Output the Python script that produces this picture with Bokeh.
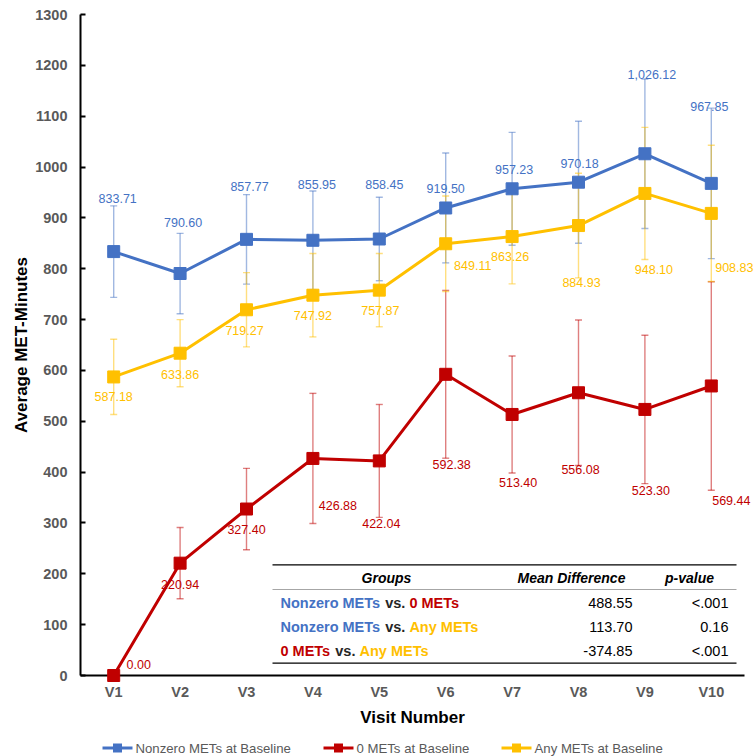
from bokeh.plotting import figure
from bokeh.models import ColumnDataSource, Whisker, TeeHead, Range1d, FixedTicker
from bokeh.core.properties import value
from bokeh.embed import file_html
from bokeh.resources import INLINE

# ---------------- data ----------------
visits = ["V1", "V2", "V3", "V4", "V5", "V6", "V7", "V8", "V9", "V10"]
nonzero = [833.71, 790.60, 857.77, 855.95, 858.45, 919.50, 957.23, 970.18, 1026.12, 967.85]
nonzero_err = [90, 79, 88, 97, 82, 108, 111, 120, 147, 148]
zero = [0.00, 220.94, 327.40, 426.88, 422.04, 592.38, 513.40, 556.08, 523.30, 569.44]
zero_err = [0, 70, 80, 128, 111, 165, 115, 143, 146, 205]
anymets = [587.18, 633.86, 719.27, 747.92, 757.87, 849.11, 863.26, 884.93, 948.10, 908.83]
any_err = [74, 66, 73, 82, 72, 94, 93, 103, 130, 134]
y_ticks = list(range(0, 1301, 100))

series_names = ["Nonzero METs at Baseline", "0 METs at Baseline", "Any METs at Baseline"]

table_header = ["Groups", "Mean Difference", "p-value"]
table_groups = [
    [("Nonzero METs", "blue"), ("vs.", "dark"), ("0 METs", "red")],
    [("Nonzero METs", "blue"), ("vs.", "dark"), ("Any METs", "yellow")],
    [("0 METs", "red"), ("vs.", "dark"), ("Any METs", "yellow")],
]
mean_diff = [488.55, 113.70, -374.85]
p_values = ["<.001", "0.16", "<.001"]

# ---------------- style / layout ----------------
FONT = "Liberation Sans"
COL = {"blue": "#4472C4", "red": "#C00000", "yellow": "#FFC000", "dark": "#262626"}
# label pixel offsets (dx, dy) relative to each marker
nonzero_lbl_dx = [4, 3, 3, 4, 5, 0, 2, 1, 7, -2]
nonzero_lbl_dy = [-53, -51, -53, -56, -55, -19, -19, -19, -79, -77]
zero_lbl_dx = [25, 0, 0, 25, 2, 6, 6, 2, 6, 20]
zero_lbl_dy = [-11, 21, 20, 47, 63, 90, 68, 77, 81, 115]
any_lbl_dx = [0, 0, -2, 0, 1, 27, -2, 3, 9, 23]
any_lbl_dy = [20, 21, 21, 20, 20, 22, 20, 57, 76, 54]

W, H = 756, 756
FL, FR, FT, FB = 80, 744, 14, 675          # frame edges in canvas pixels
YMAX = 1300

p = figure(width=W, height=H, x_range=visits, y_range=Range1d(0, YMAX),
           output_backend="svg", toolbar_location=None,
           min_border_left=FL, min_border_right=W - FR,
           min_border_top=FT, min_border_bottom=H - FB)
p.outline_line_color = None
p.xgrid.visible = False
p.ygrid.visible = False
p.background_fill_color = "white"

# axes
p.yaxis.ticker = FixedTicker(ticks=y_ticks)
p.yaxis.axis_label = "Average MET-Minutes"
p.yaxis.axis_label_text_font = FONT
p.yaxis.axis_label_text_font_size = "17px"
p.yaxis.axis_label_text_font_style = "bold"
p.yaxis.axis_label_text_color = "black"
p.yaxis.axis_label_standoff = 1
p.yaxis.major_label_text_font = FONT
p.yaxis.major_label_text_font_size = "14.5px"
p.yaxis.major_label_text_font_style = "bold"
p.yaxis.major_label_text_color = "#595959"
p.yaxis.major_label_standoff = 13
p.yaxis.major_tick_in = 5
p.yaxis.major_tick_out = 0
p.yaxis.major_tick_line_width = 2
p.yaxis.major_tick_line_color = "black"
p.yaxis.minor_tick_line_color = None
p.yaxis.axis_line_width = 2
p.yaxis.axis_line_color = "black"

p.xaxis.axis_label = "Visit Number"
p.xaxis.axis_label_text_font = FONT
p.xaxis.axis_label_text_font_size = "17px"
p.xaxis.axis_label_text_font_style = "bold"
p.xaxis.axis_label_text_color = "black"
p.xaxis.axis_label_standoff = 5
p.xaxis.major_label_text_font = FONT
p.xaxis.major_label_text_font_size = "14.5px"
p.xaxis.major_label_text_font_style = "bold"
p.xaxis.major_label_text_color = "#595959"
p.xaxis.major_label_standoff = 8
p.xaxis.major_tick_in = 0
p.xaxis.major_tick_out = 0
p.xaxis.axis_line_width = 2
p.xaxis.axis_line_color = "black"

# pixel -> axis-unit helpers for the annotation table / legend
def tx(px):
    return (px - FL) / ((FR - FL) / len(visits))

def ty(py):
    return (FB - py) / ((FB - FT) / YMAX)

# ---------------- series ----------------
series = [
    (nonzero, nonzero_err, "blue", nonzero_lbl_dx, nonzero_lbl_dy),
    (zero, zero_err, "red", zero_lbl_dx, zero_lbl_dy),
    (anymets, any_err, "yellow", any_lbl_dx, any_lbl_dy),
]

label_jobs = []
for vals, errs, ckey, ldx, ldy in series:
    c = COL[ckey]
    idx = [i for i, e in enumerate(errs) if e > 0]
    wsrc = ColumnDataSource(dict(
        x=[visits[i] for i in idx],
        upper=[vals[i] + errs[i] for i in idx],
        lower=[vals[i] - errs[i] for i in idx]))
    w = Whisker(source=wsrc, base="x", upper="upper", lower="lower", dimension="height",
                line_color=c, line_alpha=0.5, line_width=1.4,
                upper_head=TeeHead(size=7, line_color=c, line_alpha=0.5, line_width=1.4),
                lower_head=TeeHead(size=7, line_color=c, line_alpha=0.5, line_width=1.4))
    p.add_layout(w)
    src = ColumnDataSource(dict(x=visits, y=vals,
                                lbl=[f"{v:,.2f}" for v in vals], dx=ldx, dy=ldy))
    p.line("x", "y", source=src, line_color=c, line_width=3)
    p.scatter("x", "y", source=src, marker="square", size=12,
              fill_color=c, line_color=c, level="overlay")
    label_jobs.append((src, c))

for src, c in label_jobs:
    p.text("x", "y", text="lbl", source=src, x_offset="dx", y_offset="dy",
           text_font=value(FONT), text_font_size="12.5px", text_color=c,
           text_align="center", text_baseline="middle", level="overlay")

# ---------------- table ----------------
p.segment(x0=[tx(272), tx(272)], y0=[ty(564.3), ty(662.7)],
          x1=[tx(736), tx(736)], y1=[ty(564.3), ty(662.7)],
          line_color="black", line_width=1.3)
p.segment(x0=[tx(272)], y0=[ty(589)], x1=[tx(736)], y1=[ty(589)],
          line_color="#A6A6A6", line_width=1)

p.text(x=[tx(386), tx(571), tx(689)], y=[ty(577)] * 3, text=table_header,
       text_font=value(FONT), text_font_size="14px", text_font_style="bold italic",
       text_color="black", text_align="center", text_baseline="middle")

row_py = [602.3, 626.0, 650.7]
piece_gap = 4.0
piece_w = {"Nonzero METs": 100.7, "vs.": 20.2, "0 METs": 50.8, "Any METs": 67.0}
for r, pieces in enumerate(table_groups):
    off = 0.0
    for txt, ckey in pieces:
        p.text(x=[tx(280)], y=[ty(row_py[r])], text=[txt], x_offset=off,
               text_font=value(FONT), text_font_size="14.5px", text_font_style="bold",
               text_color=COL[ckey], text_align="left", text_baseline="middle")
        off += piece_w[txt] + piece_gap

p.text(x=[tx(632)] * 3, y=[ty(v) for v in row_py], text=[f"{m:.2f}" for m in mean_diff],
       text_font=value(FONT), text_font_size="14.5px", text_color="black",
       text_align="right", text_baseline="middle")
p.text(x=[tx(728)] * 3, y=[ty(v) for v in row_py], text=p_values,
       text_font=value(FONT), text_font_size="14.5px", text_color="black",
       text_align="right", text_baseline="middle")

# ---------------- legend (drawn below the axis) ----------------
leg_y = ty(747.5)
leg_x0 = [102, 323, 501]      # left end of each legend line, px
for k, (name, ckey) in enumerate(zip(series_names, ["blue", "red", "yellow"])):
    c = COL[ckey]
    x0 = leg_x0[k]
    p.segment(x0=[tx(x0)], y0=[leg_y], x1=[tx(x0 + 30)], y1=[leg_y],
              line_color=c, line_width=3, level="overlay")
    # square marker drawn as a short, thick butt-capped stroke
    p.segment(x0=[tx(x0 + 10.5)], y0=[leg_y], x1=[tx(x0 + 19.5)], y1=[leg_y],
              line_color=c, line_width=9, line_cap="butt", level="overlay")
    p.text(x=[tx(x0 + 33)], y=[leg_y], text=[name], text_font=value(FONT),
           text_font_size="13.2px", text_color="#595959", text_align="left",
           text_baseline="middle", level="overlay")

open("out.html", "w").write(file_html(p, INLINE))
